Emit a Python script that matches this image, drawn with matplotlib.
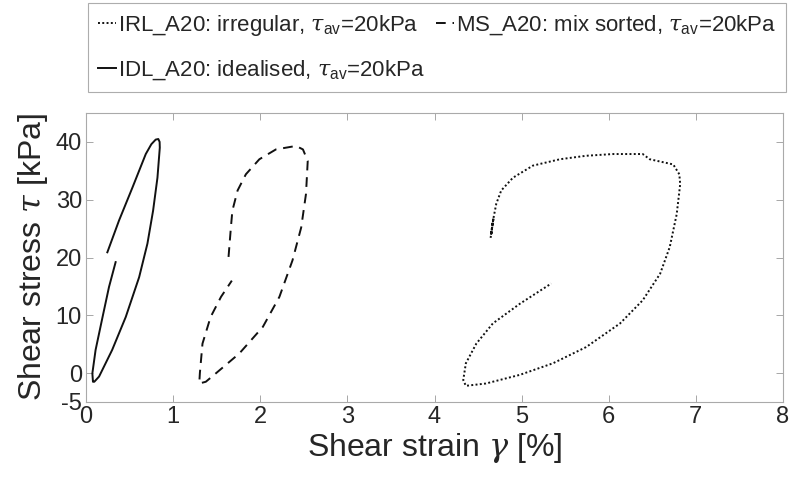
import matplotlib
matplotlib.use("Agg")
import matplotlib.pyplot as plt

plt.rcParams['font.family'] = ['Liberation Sans', 'DejaVu Sans']
plt.rcParams['mathtext.fontset'] = 'custom'
plt.rcParams['mathtext.rm'] = 'Liberation Sans'
plt.rcParams['mathtext.it'] = 'DejaVu Serif:italic'
plt.rcParams['axes.unicode_minus'] = False

# IDL_A20 (solid)
idl_x = [0.245, 0.379, 0.533, 0.686, 0.75, 0.80, 0.83, 0.845, 0.847, 0.82, 0.77, 0.705, 0.61, 0.456, 0.30,
         0.15, 0.095, 0.08, 0.073, 0.11, 0.19, 0.264, 0.34]
idl_y = [20.9, 26.4, 32.1, 37.9, 39.6, 40.4, 40.5, 40.0, 39.0, 33.8, 28.1, 22.4, 16.6, 9.7, 4.0,
         -0.6, -1.5, -1.5, -0.05, 4.0, 9.7, 14.9, 19.2]

# MS_A20 (dashed)
ms_x = [1.636, 1.663, 1.68, 1.74, 1.835, 1.99, 2.18, 2.41, 2.49, 2.545, 2.525, 2.47, 2.37, 2.22, 2.03,
        1.76, 1.49, 1.375, 1.30, 1.307, 1.337, 1.43, 1.55, 1.674]
ms_y = [20.1, 25.2, 28.1, 31.6, 34.4, 37.0, 38.7, 39.3, 38.7, 36.7, 31.0, 25.2, 19.5, 13.2, 8.0,
        3.4, -0.05, -1.5, -1.8, 0.0, 5.1, 9.7, 13.2, 16.0]

# IRL_A20 (dotted)
irl_x = [4.644, 4.678, 4.650, 4.672, 4.648, 4.678, 4.709, 4.766, 4.90, 5.13, 5.44, 5.74, 6.05, 6.39, 6.47,
         6.59, 6.74, 6.81, 6.82, 6.78, 6.70, 6.59, 6.39, 6.13, 5.74, 5.36, 4.98, 4.59,
         4.36, 4.33, 4.36, 4.48, 4.67, 4.98, 5.34]
irl_y = [23.4, 26.9, 24.0, 26.5, 23.8, 26.9, 29.3, 31.6, 33.8, 35.9, 37.0, 37.6, 37.9, 37.9, 37.0,
         36.6, 36.1, 34.4, 32.7, 27.5, 21.8, 17.2, 12.6, 8.6, 4.5, 1.7, -0.3, -1.8,
         -2.2, -1.2, 1.7, 5.1, 8.6, 12.0, 15.5]

labels = [r'IRL_A20: irregular, $\tau_{\rm av}$=20kPa',
          r'MS_A20: mix sorted, $\tau_{\rm av}$=20kPa',
          r'IDL_A20: idealised, $\tau_{\rm av}$=20kPa']
xticks = [0, 1, 2, 3, 4, 5, 6, 7, 8]
yticks = [-5, 0, 10, 20, 30, 40]

fig = plt.figure(figsize=(7.92, 4.83), dpi=100)
ax = fig.add_axes([86/792, 1-402/483, 697/792, 289/483])

txtc = '#262626'
l_irl, = ax.plot(irl_x, irl_y, color='#111111', lw=1.4, linestyle=(0, (1, 1.2)))
l_ms, = ax.plot(ms_x, ms_y, color='#111111', lw=1.4, linestyle=(0, (5, 3.5)))
l_idl, = ax.plot(idl_x, idl_y, color='#111111', lw=1.4, linestyle='-')

ax.set_xlim(0, 8)
ax.set_ylim(-5, 45)
ax.set_xticks(xticks)
ax.set_yticks(yticks)
ax.tick_params(direction='in', top=True, right=True, length=5, width=0.6, color='#999999',
               labelsize=17, labelcolor=txtc, pad=3)
for s in ax.spines.values():
    s.set_color('#aaaaaa')
    s.set_linewidth(0.8)

ax.set_xlabel(r'Shear strain $\gamma$ [%]', fontsize=23, color=txtc, labelpad=2)
ax.set_ylabel(r'Shear stress $\tau$ [kPa]', fontsize=23, color=txtc, labelpad=4)

leg = fig.legend([l_irl, l_idl, l_ms], [labels[0], labels[2], labels[1]],
                 loc='upper left', bbox_to_anchor=(88/792, 1-97/483, 698/792, 94/483),
                 mode='expand', ncol=2, frameon=True, fancybox=False, fontsize=16,
                 handlelength=0.8, handletextpad=0.1, labelspacing=0.9,
                 borderpad=0.45, borderaxespad=0, columnspacing=0.3)
leg.get_frame().set_edgecolor('#999999')
leg.get_frame().set_linewidth(0.8)
for t in leg.get_texts():
    t.set_color(txtc)

fig.savefig('out.png', dpi=100)
